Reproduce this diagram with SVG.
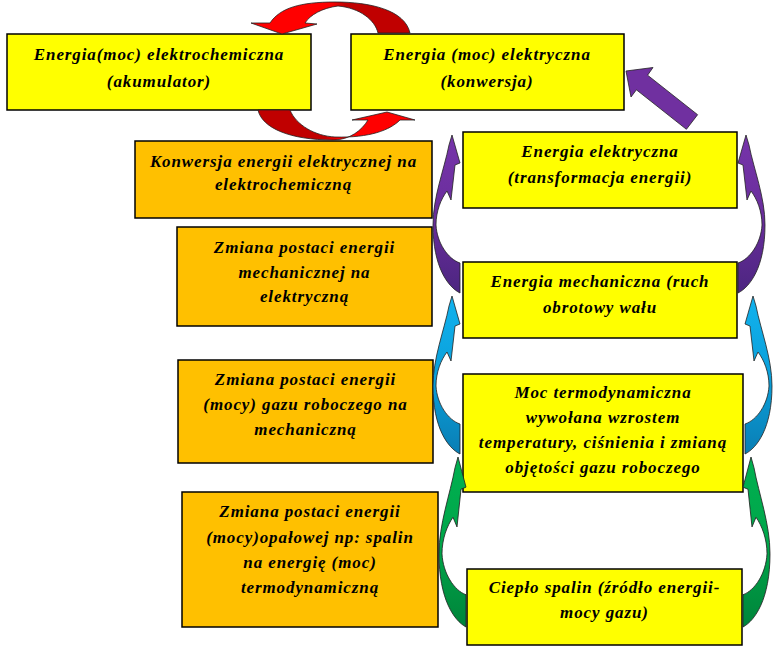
<svg xmlns="http://www.w3.org/2000/svg" xmlns:xlink="http://www.w3.org/1999/xlink" width="775" height="649" viewBox="0 0 775 649">
<style>
.box{stroke:#000;stroke-width:1.5}
.y{fill:#FFFF00}
.o{fill:#FFC000}
.t{font-family:"Liberation Serif","Times New Roman",serif;font-weight:bold;font-style:italic;font-size:17px;letter-spacing:0.9px;fill:#000;text-anchor:middle}
.arr{stroke:#222;stroke-width:0.8;stroke-linejoin:round}
</style>
<defs>
<linearGradient id="gP" x1="0" y1="0" x2="0" y2="1"><stop offset="0" stop-color="#7634AA"/><stop offset="0.5" stop-color="#6A2E9C"/><stop offset="1" stop-color="#4C2580"/></linearGradient>
<linearGradient id="gB" x1="0" y1="0" x2="0" y2="1"><stop offset="0" stop-color="#12B2EE"/><stop offset="0.5" stop-color="#0AA0DA"/><stop offset="1" stop-color="#0A7EB4"/></linearGradient>
<linearGradient id="gG" x1="0" y1="0" x2="0" y2="1"><stop offset="0" stop-color="#00B050"/><stop offset="0.5" stop-color="#00A64A"/><stop offset="1" stop-color="#00843A"/></linearGradient>
<linearGradient id="gR1" gradientUnits="userSpaceOnUse" x1="330" y1="0" x2="345" y2="0"><stop offset="0" stop-color="#FF0000"/><stop offset="1" stop-color="#C00000"/></linearGradient>
<linearGradient id="gR2" gradientUnits="userSpaceOnUse" x1="340" y1="0" x2="325" y2="0"><stop offset="0" stop-color="#FF0000"/><stop offset="1" stop-color="#C00000"/></linearGradient>
<path id="carrow" d="M -8,0 L 0,28 L -5,30 L -9,65 L -13,56 C -19,64 -24,76 -24,90 C -23,108 -12,124 0,128 L 0,158 C -12,152 -27,132 -27,90 C -27,62 -16,35 -11,10 Z"/>
</defs>

<g id="node-akumulator">
<rect class="box y" x="7" y="34" width="304" height="76"/>
<text class="t" x="159" y="60">Energia(moc) elektrochemiczna</text>
<text class="t" x="159" y="87">(akumulator)</text>
</g>
<g id="node-konwersja">
<rect class="box y" x="351" y="34" width="273" height="76"/>
<text class="t" x="487" y="60">Energia (moc) elektryczna</text>
<text class="t" x="487" y="87">(konwersja)</text>
</g>
<g id="node-konw-elektrochem">
<rect class="box o" x="135" y="141" width="297" height="77"/>
<text class="t" x="283.5" y="167">Konwersja energii elektrycznej na</text>
<text class="t" x="283.5" y="190">elektrochemiczną</text>
</g>
<g id="node-mech-elektr">
<rect class="box o" x="177" y="227" width="255" height="99"/>
<text class="t" x="304.5" y="253">Zmiana postaci energii</text>
<text class="t" x="304.5" y="278">mechanicznej na</text>
<text class="t" x="304.5" y="302">elektryczną</text>
</g>
<g id="node-gaz-mech">
<rect class="box o" x="178" y="360" width="255" height="103"/>
<text class="t" x="305.5" y="385">Zmiana postaci energii</text>
<text class="t" x="305.5" y="410">(mocy) gazu roboczego na</text>
<text class="t" x="305.5" y="435">mechaniczną</text>
</g>
<g id="node-opal-termo">
<rect class="box o" x="182" y="492" width="256" height="135"/>
<text class="t" x="310" y="517">Zmiana postaci energii</text>
<text class="t" x="310" y="543">(mocy)opałowej np: spalin</text>
<text class="t" x="310" y="568">na energię (moc)</text>
<text class="t" x="310" y="593">termodynamiczną</text>
</g>
<g id="node-elektryczna">
<rect class="box y" x="463" y="132" width="274" height="76"/>
<text class="t" x="600" y="157">Energia elektryczna</text>
<text class="t" x="600" y="183">(transformacja energii)</text>
</g>
<g id="node-mechaniczna">
<rect class="box y" x="463" y="262" width="274" height="76"/>
<text class="t" x="600" y="287">Energia mechaniczna (ruch</text>
<text class="t" x="600" y="313">obrotowy wału</text>
</g>
<g id="node-termodynamiczna">
<rect class="box y" x="463" y="374" width="280" height="118"/>
<text class="t" x="603" y="398">Moc termodynamiczna</text>
<text class="t" x="603" y="423">wywołana wzrostem</text>
<text class="t" x="603" y="448">temperatury, ciśnienia i zmianą</text>
<text class="t" x="603" y="473">objętości gazu roboczego</text>
</g>
<g id="node-cieplo">
<rect class="box y" x="467" y="569" width="275" height="76"/>
<text class="t" x="604.5" y="593">Ciepło spalin (źródło energii-</text>
<text class="t" x="604.5" y="618">mocy gazu)</text>
</g>

<g id="connectors">
<path class="arr" fill="url(#gR1)" d="M 282,34 L 251,23 L 270,23 C 280,8 300,2 335,2 C 370,2 405,10 410,33 L 378,33 C 375,20 360,8 338,6 C 322,8 310,15 305,23 L 317,24 Z"/>
<path class="arr" fill="url(#gR2)" d="M 387,112 L 415,120 L 400,120 C 390,130 370,138 335,137 C 315,136 296,125 290,110 L 258,110 C 262,128 290,140 333,140 C 350,140 362,130 368,120 L 352,120 Z"/>
<polygon class="arr" fill="#7030A0" points="626,71 653,67.5 647.6,75.2 697.6,114.7 686.4,129.3 636.4,89.8 631,97"/>
<use xlink:href="#carrow" class="arr" fill="url(#gP)" transform="translate(460,135)"/>
<use xlink:href="#carrow" class="arr" fill="url(#gP)" transform="translate(738,135) scale(-1,1)"/>
<use xlink:href="#carrow" class="arr" fill="url(#gB)" transform="translate(460,296)"/>
<use xlink:href="#carrow" class="arr" fill="url(#gB)" transform="translate(745,296) scale(-1,1)"/>
<use xlink:href="#carrow" class="arr" fill="url(#gG)" transform="translate(466,457) scale(1,1.076)"/>
<use xlink:href="#carrow" class="arr" fill="url(#gG)" transform="translate(743,457) scale(-1,1.076)"/>
</g>
</svg>
